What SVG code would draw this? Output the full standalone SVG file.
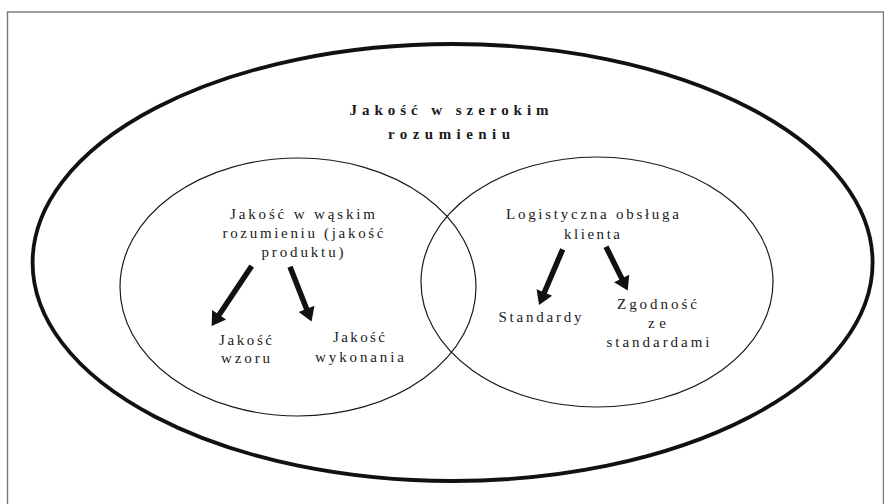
<svg xmlns="http://www.w3.org/2000/svg" width="884" height="504" viewBox="0 0 884 504">
<style>
  .t { font-family: "Liberation Serif", "Times New Roman", serif; font-size: 15px; fill: #1a1a1a; text-anchor: middle; }
  .b { font-weight: bold; font-size: 15px; }
  .thin { fill: none; stroke: #1a1a1a; stroke-width: 1.2; }
  .arrow { stroke: #111; stroke-width: 5.5; marker-end: url(#head); }
</style>
<defs>
  <marker id="head" markerUnits="userSpaceOnUse" markerWidth="16" markerHeight="18" viewBox="0 -8 13 16" refX="1" refY="0" orient="auto">
    <path d="M0,-7.5 L12,0 L0,7.5 z" fill="#111"/>
  </marker>
</defs>
<rect x="7.5" y="12" width="876" height="500" fill="#fff" stroke="#777" stroke-width="1.4"/>
<g id="outer">
  <ellipse cx="452.6" cy="262.5" rx="420" ry="218.5" fill="none" stroke="#111" stroke-width="3.8"/>
  <text class="t b" x="449" y="115" textLength="199" lengthAdjust="spacing">Jakość w szerokim</text>
  <text class="t b" x="449" y="139" textLength="122" lengthAdjust="spacing">rozumieniu</text>
</g>
<g id="left">
  <ellipse class="thin" cx="298" cy="287" rx="178" ry="129"/>
  <text class="t" x="302.5" y="219" textLength="145" lengthAdjust="spacing">Jakość w wąskim</text>
  <text class="t" x="303" y="238" textLength="161" lengthAdjust="spacing">rozumieniu (jakość</text>
  <text class="t" x="302.5" y="257" textLength="82" lengthAdjust="spacing">produktu)</text>
</g>
<g id="right">
  <ellipse class="thin" cx="597" cy="282" rx="176" ry="125"/>
  <text class="t" x="592.5" y="219" textLength="173" lengthAdjust="spacing">Logistyczna obsługa</text>
  <text class="t" x="592" y="239" textLength="56" lengthAdjust="spacing">klienta</text>
</g>
<g id="wzoru">
  <text class="t" x="245.5" y="345" textLength="53" lengthAdjust="spacing">Jakość</text>
  <text class="t" x="245.5" y="363" textLength="49" lengthAdjust="spacing">wzoru</text>
</g>
<g id="wykonania">
  <text class="t" x="359" y="342" textLength="52" lengthAdjust="spacing">Jakość</text>
  <text class="t" x="359.5" y="362" textLength="89" lengthAdjust="spacing">wykonania</text>
</g>
<g id="standardy">
  <text class="t" x="540" y="322" textLength="83" lengthAdjust="spacing">Standardy</text>
</g>
<g id="zgodnosc">
  <text class="t" x="657" y="309" textLength="80" lengthAdjust="spacing">Zgodność</text>
  <text class="t" x="657" y="328" textLength="18" lengthAdjust="spacing">ze</text>
  <text class="t" x="658" y="347" textLength="103" lengthAdjust="spacing">standardami</text>
</g>
<g id="connectors">
  <line class="arrow" x1="251.7" y1="266" x2="218.5" y2="315.7"/>
  <line class="arrow" x1="290" y1="266.7" x2="307" y2="310"/>
  <line class="arrow" x1="562.7" y1="249.3" x2="543.9" y2="293.5"/>
  <line class="arrow" x1="606" y1="246.7" x2="622.2" y2="279.4"/>
</g>
</svg>
